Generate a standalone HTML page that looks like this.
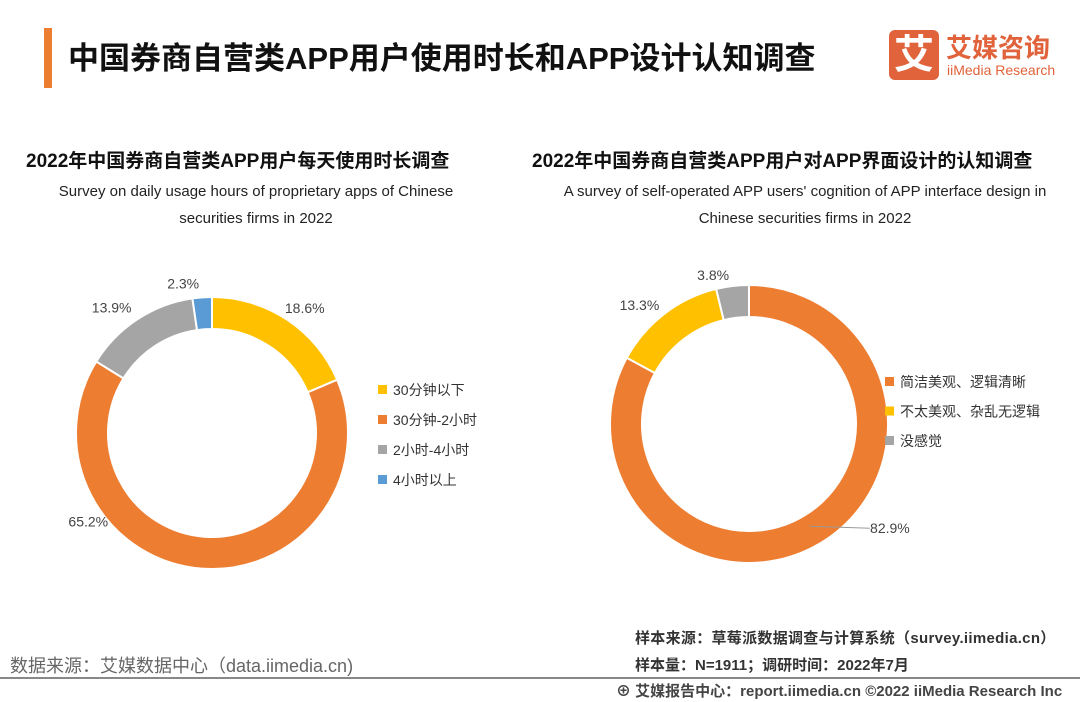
<!DOCTYPE html>
<html><head><meta charset="utf-8"><style>
body{margin:0;width:1080px;height:702px;background:#fff;font-family:"Liberation Sans","Noto Sans CJK SC",sans-serif;overflow:hidden;position:relative}
.a{position:absolute;white-space:nowrap}
</style></head><body>
<div class="a" style="left:44px;top:28px;width:8px;height:60px;background:#ED7D31"></div>
<div class="a" style="left:68px;top:33px;font-size:31px;font-weight:bold;color:#111">中国券商自营类APP用户使用时长和APP设计认知调查</div>
<div class="a" style="left:889px;top:30px;width:50px;height:50px;background:#E0633B;border-radius:6px;color:#fff;font-size:40px;font-weight:bold;text-align:center;line-height:50px">艾</div>
<div class="a" style="left:946px;top:28px;font-size:26px;font-weight:bold;color:#E0633B">艾媒咨询</div>
<div class="a" style="left:947px;top:62px;font-size:14px;color:#E0633B">iiMedia Research</div>
<div class="a" style="left:26px;top:146px;font-size:19px;font-weight:bold;color:#111">2022年中国券商自营类APP用户每天使用时长调查</div>
<div class="a" style="left:0;width:512px;top:178px;font-size:15px;color:#222;text-align:center;white-space:normal;line-height:27px">Survey on daily usage hours of proprietary apps of Chinese<br>securities firms in 2022</div>
<div class="a" style="left:532px;top:146px;font-size:19px;font-weight:bold;color:#111">2022年中国券商自营类APP用户对APP界面设计的认知调查</div>
<div class="a" style="left:540px;width:530px;top:178px;font-size:15px;color:#222;text-align:center;white-space:normal;line-height:27px">A survey of self-operated APP users' cognition of APP interface design in<br>Chinese securities firms in 2022</div>
<svg class="a" id="chart" style="left:0;top:0" width="1080" height="702"></svg>
<div class="a" style="left:10px;top:652px;font-size:18px;color:#666">数据来源：艾媒数据中心（data.iimedia.cn)</div>
<div class="a" style="left:635px;top:627px;font-size:15px;font-weight:bold;color:#333;letter-spacing:0.3px">样本来源：草莓派数据调查与计算系统（survey.iimedia.cn）</div>
<div class="a" style="left:635px;top:654px;font-size:15px;font-weight:bold;color:#333">样本量：N=1911；调研时间：2022年7月</div>
<div class="a" style="left:0;top:677px;width:1080px;height:2px;background:#888"></div>
<div class="a" style="left:616px;top:680px;font-size:15px;font-weight:bold;color:#444">⊕ 艾媒报告中心：report.iimedia.cn  ©2022  iiMedia Research  Inc</div>
<script>
const leftCats=["30分钟以下","30分钟-2小时","2小时-4小时","4小时以上"];
const leftVals=[18.6,65.2,13.9,2.3];
const rightCats=["简洁美观、逻辑清晰","不太美观、杂乱无逻辑","没感觉"];
const rightVals=[82.9,13.3,3.8];
const leftColors=["#FFC000","#ED7D31","#A5A5A5","#5B9BD5"];
const rightColors=["#ED7D31","#FFC000","#A5A5A5"];
const svg=document.getElementById('chart');const NS="http://www.w3.org/2000/svg";
function mk(t,a){const e=document.createElementNS(NS,t);for(const k in a)e.setAttribute(k,a[k]);svg.appendChild(e);return e;}
function donut(cx,cy,R,r,vals,cols,name,labelR,bdx,bdy,line){
 const tot=vals.reduce((s,v)=>s+v,0);let a0=0;
 vals.forEach((v,i)=>{const a1=a0+v/tot*2*Math.PI;
  const p=(ang,rad)=>[cx+rad*Math.sin(ang),cy-rad*Math.cos(ang)];
  const [x1,y1]=p(a0,R),[x2,y2]=p(a1,R),[x3,y3]=p(a1,r),[x4,y4]=p(a0,r);const lg=a1-a0>Math.PI?1:0;
  const e=mk('path',{d:`M${x1},${y1}A${R},${R} 0 ${lg} 1 ${x2},${y2}L${x3},${y3}A${r},${r} 0 ${lg} 0 ${x4},${y4}Z`,fill:cols[i],stroke:'#fff','stroke-width':2});
  
  
  const m=(a0+a1)/2;let [lx,ly]=p(m,labelR);let anchor='middle';
  if(v>50){const [ax,ay]=p(m,R-20);lx=ax+bdx;ly=ay+bdy;
   if(line){const ln=mk('line',{x1:ax,y1:ay,x2:lx-20,y2:ly,stroke:'#999'});
   
   }
  } else { lx+= (lx<cx?-18:10); }
  const t=mk('text',{x:lx,y:ly+5,'font-size':14,fill:'#444','text-anchor':anchor});t.textContent=v.toFixed(1)+'%';
  
  
  a0=a1;});
}
function legend(x,y,dy,cats,cols,name){cats.forEach((c,i)=>{
 const r=mk('rect',{x:x,y:y+i*dy-5,width:9,height:9,fill:cols[i]});
 
 
 const t=mk('text',{x:x+15,y:y+i*dy+5,'font-size':14,fill:'#333'});t.textContent=cats[i];
 
 });}
donut(212,433,136,104,leftVals,leftColors,'left',150,-115,-27,false);
donut(749,424,139,107,rightVals,rightColors,'right',150,80,2,true);
legend(378,390,30,leftCats,leftColors,'left');
legend(885,382,29.5,rightCats,rightColors,'right');
</script>
</body></html>
